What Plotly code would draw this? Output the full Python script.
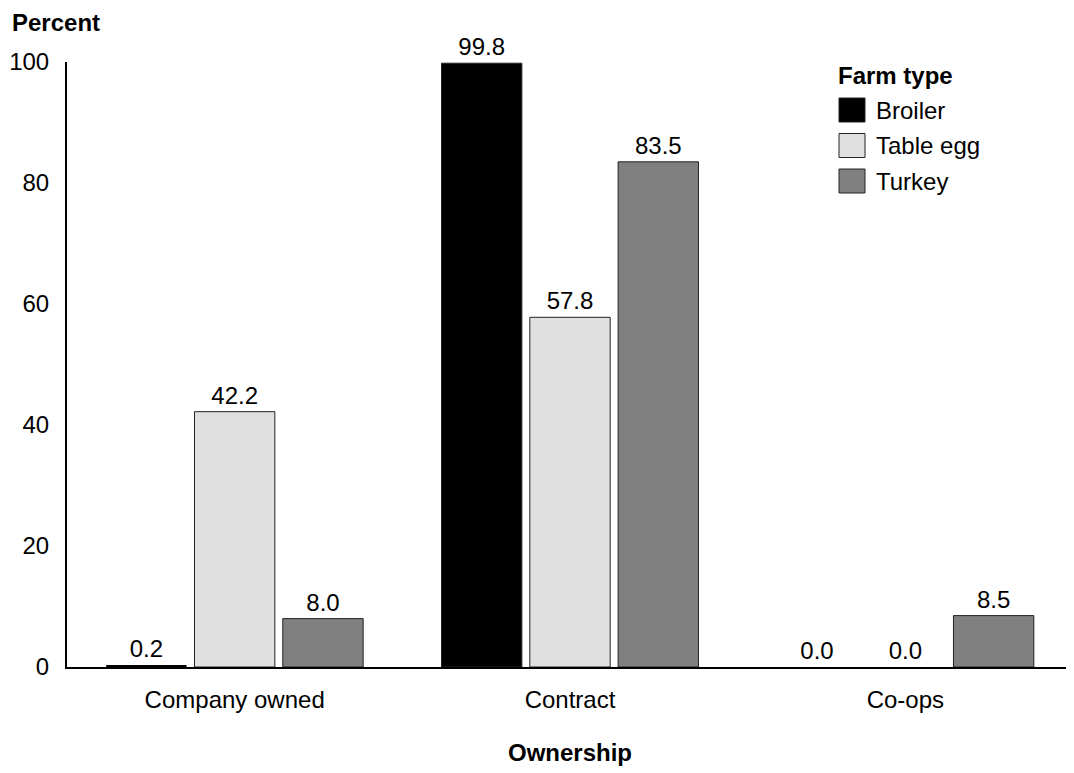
import plotly.graph_objects as go

categories = ["Company owned", "Contract", "Co-ops"]
series_names = ["Broiler", "Table egg", "Turkey"]
broiler = [0.2, 99.8, 0.0]
table_egg = [42.2, 57.8, 0.0]
turkey = [8.0, 83.5, 8.5]
y_ticks = [0, 20, 40, 60, 80, 100]

colors = ["#000000", "#e0e0e0", "#808080"]
values = [broiler, table_egg, turkey]

OFF = 8  # browser body margin
W, H = 1066, 765
ML, MR, MT, MB = 59, 1, 54, 106
PW, PH = W - ML - MR, H - MT - MB
FONT = "Liberation Sans, Arial, sans-serif"
FS = 24


def px_x(x):
    return (x - OFF - ML) / PW


def px_y(y):
    return (OFF + H - MB - y) / PH


fig = go.Figure()
for name, vals, col in zip(series_names, values, colors):
    fig.add_trace(go.Bar(
        x=categories, y=vals, name=name,
        marker=dict(color=col, line=dict(color="#222222",
                                         width=[0 if v < 1 else 1 for v in vals])),
        text=[f"{v:.1f}" for v in vals], textposition="outside",
        textfont=dict(family=FONT, size=FS, color="black"),
        cliponaxis=False, showlegend=False,
    ))

# legend drawn manually for large swatches
shapes = []
annotations = []
annotations.append(dict(x=px_x(836), y=px_y(75), xref="paper", yref="paper",
                        text="<b>Farm type</b>", showarrow=False, xanchor="left",
                        yanchor="middle", font=dict(family=FONT, size=FS, color="black")))
for i, (name, col) in enumerate(zip(series_names, colors)):
    yc = 110 + i * 35.5
    shapes.append(dict(type="rect", xref="paper", yref="paper",
                       x0=px_x(839), x1=px_x(865), y0=px_y(yc - 12), y1=px_y(yc + 12),
                       fillcolor=col, line=dict(color="#222222", width=1)))
    annotations.append(dict(x=px_x(874), y=px_y(yc), xref="paper", yref="paper",
                            text=name, showarrow=False, xanchor="left", yanchor="middle",
                            font=dict(family=FONT, size=FS, color="black")))

annotations.append(dict(x=px_x(10), y=px_y(22), xref="paper", yref="paper",
                        text="<b>Percent</b>", showarrow=False, xanchor="left",
                        yanchor="middle", font=dict(family=FONT, size=FS, color="black")))

fig.update_layout(
    width=W, height=H,
    margin=dict(l=ML, r=MR, t=MT, b=MB),
    plot_bgcolor="white", paper_bgcolor="white",
    barmode="group", bargap=0.21, bargroupgap=0.09,
    font=dict(family=FONT, size=FS, color="black"),
    shapes=shapes, annotations=annotations,
    xaxis=dict(showline=True, linecolor="black", linewidth=2, showgrid=False,
               ticks="", ticklabelstandoff=10,
               title=dict(text="<b>Ownership</b>", standoff=32,
                          font=dict(family=FONT, size=FS, color="black"))),
    yaxis=dict(range=[0, 100], tickvals=y_ticks, showline=True, linecolor="black",
               linewidth=2, showgrid=False, zeroline=False, ticks="",
               ticklabelstandoff=11),
)

fig.write_html("out.html")
